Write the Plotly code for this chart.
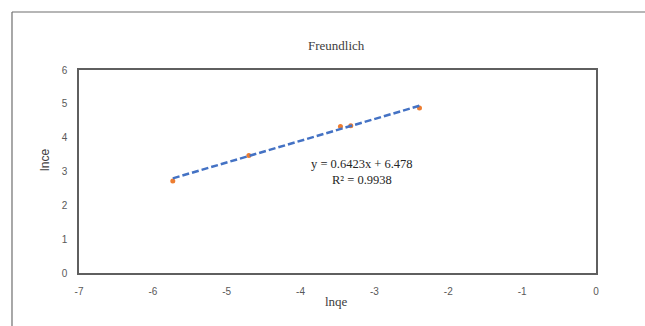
import plotly.graph_objects as go

# Freundlich isotherm data (ln qe vs ln ce)
lnqe = [-5.73, -4.70, -3.46, -3.32, -2.39]
lnce = [2.72, 3.47, 4.33, 4.35, 4.88]

# Linear trendline coefficients
slope = 0.6423
intercept = 6.478
r_squared = 0.9938

x_ticks = [-7, -6, -5, -4, -3, -2, -1, 0]
y_ticks = [0, 1, 2, 3, 4, 5, 6]

fit_x = [min(lnqe), max(lnqe)]
fit_y = [slope * v + intercept for v in fit_x]

fig = go.Figure()

fig.add_trace(go.Scatter(
    x=lnqe, y=lnce, mode="markers",
    marker=dict(color="#ED7D31", size=5),
    showlegend=False,
))

fig.add_trace(go.Scatter(
    x=fit_x, y=fit_y, mode="lines",
    line=dict(color="#4472C4", width=2.5, dash="7px,3px"),
    showlegend=False,
))

axis_font = dict(family="Liberation Sans, Arial, sans-serif", size=10, color="#595959")

fig.update_xaxes(
    range=[-7, 0], tickvals=x_ticks, ticktext=[str(v) for v in x_ticks],
    showgrid=False, zeroline=False,
    showline=True, linecolor="#5f5f5f", linewidth=1.5, mirror=True,
    ticks="outside", ticklen=0, tickfont=axis_font, ticklabelstandoff=8,
)
fig.update_yaxes(
    range=[0, 6], tickvals=y_ticks, ticktext=[str(v) for v in y_ticks],
    showgrid=False, zeroline=False,
    showline=True, linecolor="#5f5f5f", linewidth=1.5, mirror=True,
    ticks="outside", ticklen=0, tickfont=axis_font, ticklabelstandoff=8,
)

serif = "Liberation Serif, Times New Roman, serif"
eq_font = dict(family=serif, size=12.5, color="#262626")

# Trendline equation and R² label
fig.add_annotation(
    x=-3.17, y=3.22, xref="x", yref="y",
    text=f"y = {slope}x + {intercept}",
    showarrow=False, font=eq_font, borderpad=0,
)
fig.add_annotation(
    x=-3.17, y=2.76, xref="x", yref="y",
    text=f"R² = {r_squared}",
    showarrow=False, font=eq_font, borderpad=0,
)

# Chart title and axis titles
fig.add_annotation(
    x=0.499, y=1.167, xref="paper", yref="paper", text="Freundlich",
    showarrow=False, font=dict(family=serif, size=13, color="#404040"),
)
fig.add_annotation(
    x=0.499, y=-0.187, xref="paper", yref="paper", text="lnqe",
    showarrow=False, font=dict(family=serif, size=13, color="#404040"),
)
fig.add_annotation(
    x=-0.062, y=0.557, xref="paper", yref="paper", text="lnce",
    xanchor="right", xshift=7,
    showarrow=False, textangle=-90,
    font=dict(family="Liberation Sans Narrow, Liberation Sans, sans-serif", size=12, color="#404040"),
)

# Outer frame (top and left edges)
fig.add_shape(type="line", xref="paper", yref="paper",
              x0=-0.1296, y0=1.2857, x1=1.1, y1=1.2857,
              line=dict(color="#6e6e6e", width=1.2))
fig.add_shape(type="line", xref="paper", yref="paper",
              x0=-0.1296, y0=1.2857, x1=-0.1296, y1=-0.3,
              line=dict(color="#6e6e6e", width=1.2))

fig.update_layout(
    width=645, height=326,
    margin=dict(l=79, r=49, t=70, b=53),
    paper_bgcolor="white", plot_bgcolor="white",
)

fig.write_html("out.html")
